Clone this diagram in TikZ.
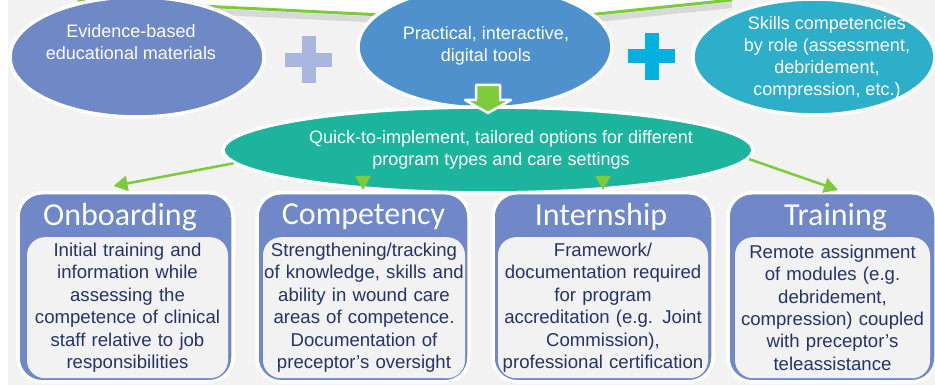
\documentclass[tikz,border=0pt]{standalone}
\usepackage{fontspec}
\setmainfont{Liberation Sans}
\newfontfamily\titlefont{Carlito}
\usetikzlibrary{shapes.geometric,arrows.meta}
\definecolor{bggray}{HTML}{F2F2F2}
\definecolor{evidblue}{HTML}{6F89C6}
\definecolor{toolblue}{HTML}{4F91CD}
\definecolor{skillcyan}{HTML}{2EAFC9}
\definecolor{quickteal}{HTML}{1CB49C}
\definecolor{plusa}{HTML}{A9B6DE}
\definecolor{plusb}{HTML}{00B0E0}
\definecolor{arrowgreen}{HTML}{7DCB3A}
\definecolor{boxblue}{HTML}{7088C8}
\definecolor{navytext}{HTML}{25336A}
\begin{document}
\begin{tikzpicture}[x=1pt, y=-1pt, line join=round,
	bubble/.style={ellipse, draw=white, line width=3.5pt, inner sep=0pt},
	bubtext/.style={text=white, align=center, font=\fontsize{18}{22}\selectfont},
	flow/.style={draw=arrowgreen, line width=2.5pt, -{Triangle[length=14pt,width=15pt]}},
	outerbox/.style={rectangle, rounded corners=24pt, fill=boxblue, draw=white, line width=3.5pt, minimum height=189pt, anchor=north},
	innerbox/.style={rectangle, rounded corners=18pt, fill=bggray, minimum height=141pt, anchor=north, inner sep=0pt, text=navytext, align=center, font=\fontsize{18.6}{22.4}\selectfont},
	boxtitle/.style={text=white, font=\titlefont\fontsize{32}{36}\selectfont}]
		\useasboundingbox (0,0) rectangle (935,385);
		\fill[white] (0,0) rectangle (935,385);
		\fill[bggray] (8,0) rectangle (935,385);
		\fill[white] (78,0)--(383,15)--(587,15)--(732,0)--cycle;
		\draw[black!30, line width=6pt, opacity=.4] (78,5)--(383,20) (587,20)--(732,5);
		\draw[arrowgreen, line width=3pt] (78,0)--(383,15) (587,15)--(732,0);
		\node[bubble, fill=evidblue, minimum width=254pt, minimum height=120pt] (evid) at (137,57) {};
		\node[bubtext] (evidtxt) at (131,42) {Evidence-based\\educational materials};
		\node[bubble, fill=toolblue, minimum width=254pt, minimum height=122pt] (tools) at (485,47) {};
		\node[bubtext] (toolstxt) at (486,46) {Practical, interactive,\\digital tools};
		\node[bubble, fill=skillcyan, minimum width=242pt, minimum height=116pt] (skills) at (814,57) {};
		\node[bubtext] (skillstxt) at (827,58) {Skills competencies\\by role (assessment,\\debridement,\\compression, etc.)};
		\foreach \cx/\cy/\col in {308.5/60/plusa, 651.5/56.5/plusb}{
			\fill[\col] (\cx-23.5,\cy-7) rectangle (\cx+23.5,\cy+7);
			\fill[\col] (\cx-7,\cy-23.5) rectangle (\cx+7,\cy+23.5);
		}
		\node[bubble, fill=quickteal, minimum width=530pt, minimum height=86pt] (quick) at (488,150) {};
		\node[bubtext] (quicktxt) at (501,150) {Quick-to-implement, tailored options for different\\program types and care settings};
		\draw[white, line width=2.5pt, fill=arrowgreen] (476,85)--(500,85)--(500,100)--(511,100)--(488,113)--(465,100)--(476,100)--cycle;
		\node[outerbox, minimum width=215pt] (onbox) at (125.5,191) {};
		\node[outerbox, minimum width=212pt] (compbox) at (363,191) {};
		\node[outerbox, minimum width=220pt] (internbox) at (603,191) {};
		\node[outerbox, minimum width=208pt] (trainbox) at (832,191) {};
		\node[boxtitle] (ontitle) at (120,217) {Onboarding};
		\node[boxtitle] (comptitle) at (363.5,217) {Competency};
		\node[boxtitle] (interntitle) at (601,217) {Internship};
		\node[boxtitle] (traintitle) at (835.5,217) {Training};
		\node[innerbox, text width=201pt] (ontxt) at (127.5,237) {Initial training and\\information while\\assessing the\\competence of clinical\\staff relative to job\\responsibilities};
		\node[innerbox, text width=202pt] (comptxt) at (364,237) {Strengthening/tracking\\of knowledge, skills and\\ability in wound care\\areas of competence.\\Documentation of\\preceptor's oversight};
		\node[innerbox, text width=210pt] (interntxt) at (603,237) {Framework/\\documentation required\\for program\\accreditation (e.g. Joint\\Commission),\\professional certification};
		\node[innerbox, text width=195pt] (traintxt) at (832.5,237) {Remote assignment\\of modules (e.g.\\debridement,\\compression) coupled\\with preceptor's\\teleassistance};
		\coordinate (ontip) at ([shift={(-12,-5)}]onbox.north);
		\coordinate (traintip) at ([shift={(6,-1)}]trainbox.north);
		\draw[flow] (quick.183) -- (ontip);
		\draw[flow] (quick.-2) -- (traintip);
		\foreach \b in {compbox, internbox}
			\draw[flow] ([yshift=15pt]\b.north) -- ([yshift=1pt]\b.north);
\end{tikzpicture}
\end{document}
